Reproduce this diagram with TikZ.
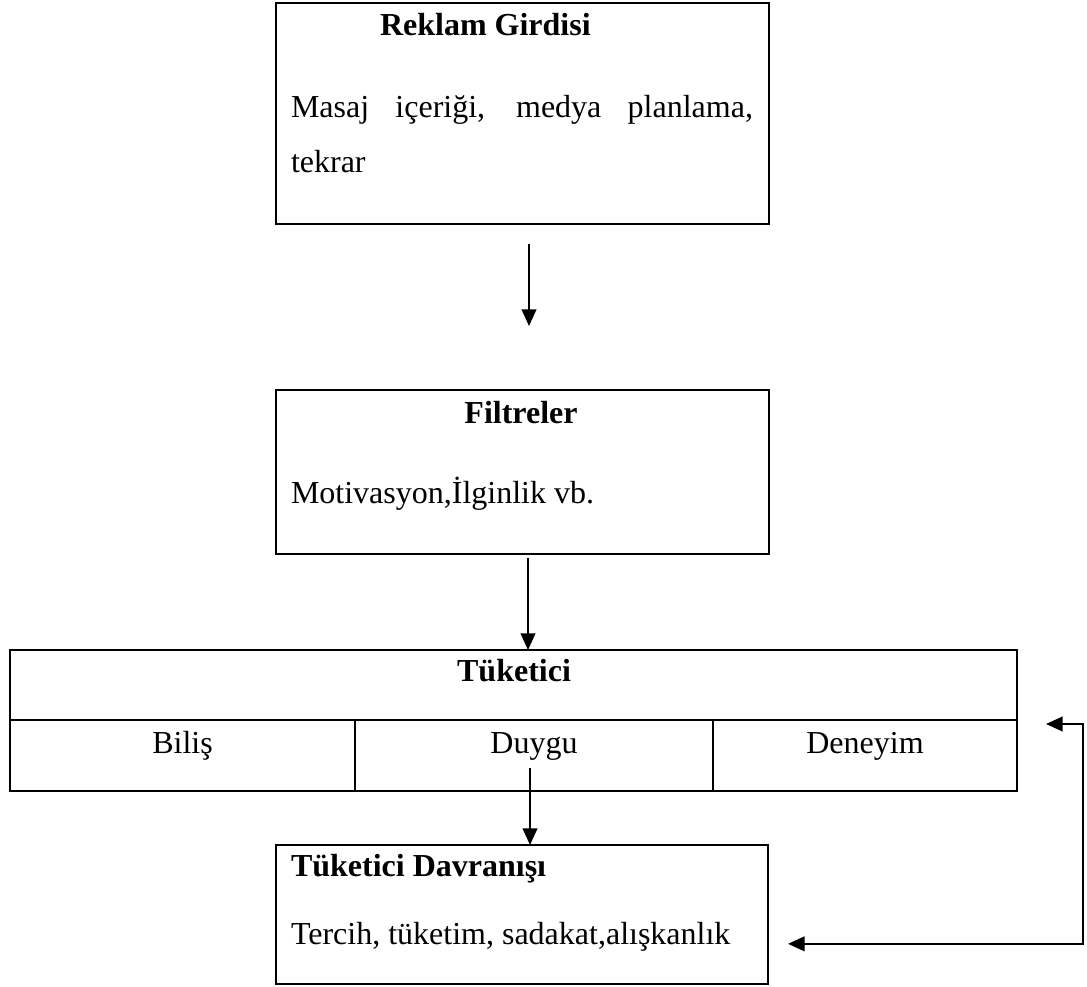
\documentclass[tikz,border=0pt]{standalone}
\usepackage{fontspec}
\setmainfont{Liberation Serif}
\usetikzlibrary{arrows.meta}

\tikzset{
  frame/.style={draw, line width=1.8pt, inner sep=0pt, outer sep=0pt, anchor=north west},
  cell/.style={draw, line width=1.6pt, inner sep=0pt, outer sep=0pt, anchor=north west},
  txt/.style={inner sep=0pt, outer sep=0pt, font=\fontsize{24}{28}\selectfont},
  btxt/.style={txt, font=\fontsize{24}{28}\selectfont\bfseries},
  flow/.style={line width=1.5pt, -{Triangle[length=12.5pt,width=11pt]}},
  loop/.style={line width=1.5pt, {Triangle[length=12.5pt,width=11pt]}-{Triangle[length=12.5pt,width=11pt]}}
}

\begin{document}
\begin{tikzpicture}[x=0.75pt, y=-0.75pt]
\useasboundingbox (0,0) rectangle (1087,987);

% advertising input box
\node[frame, minimum width=369.75pt, minimum height=165.75pt] (reklam) at (276,3) {};
\node[btxt, anchor=base west] (reklamT) at (380,36) {Reklam Girdisi};
\node[txt, anchor=base west] (reklamB1) at (291,118)
  {\makebox[346.5pt][s]{Masaj içeriği, medya planlama,}};
\node[txt, anchor=base west] (reklamB2) at (291,173) {tekrar};

% filters box
\node[frame, minimum width=369.75pt, minimum height=123pt] (filtre) at (276,390) {};
\node[btxt, anchor=base] (filtreT) at (521,423) {Filtreler};
\node[txt, anchor=base west] (filtreB) at (291,503) {Motivasyon,İlginlik vb.};

% consumer table
\node[cell, minimum width=755.25pt, minimum height=52.5pt] (tuk) at (10,650) {};
\node[cell, minimum width=258.75pt, minimum height=53.25pt] (bilis) at (10,720) {};
\node[cell, minimum width=268.5pt, minimum height=53.25pt] (duygu) at (355,720) {};
\node[cell, minimum width=228pt, minimum height=53.25pt] (deneyim) at (713,720) {};
\node[btxt, anchor=base] (tukT) at (514,681) {Tüketici};
\node[txt, anchor=base] (bilisT) at (182.5,753) {Biliş};
\node[txt, anchor=base] (duyguT) at (534,753) {Duygu};
\node[txt, anchor=base] (deneyimT) at (865,753) {Deneyim};

% consumer behaviour box
\node[frame, minimum width=369pt, minimum height=104.25pt] (davr) at (276,845) {};
\node[btxt, anchor=base west] (davrT) at (291,876) {Tüketici Davranışı};
\node[txt, anchor=base west] (davrB) at (291,944) {Tercih, tüketim, sadakat,alışkanlık};

% connector guides
\coordinate (c1) at (529,0);
\coordinate (c2) at (528,0);
\coordinate (c3) at (530,0);
\coordinate (fbx) at (1083,0);
\coordinate (fbA) at ([shift={(21.75pt,-3pt)}]tuk.south east);
\coordinate (fbB) at ([shift={(15pt,-22pt)}]davr.east);

% flow arrows
\draw[flow] ([yshift=-15pt]reklam.south -| c1) -- ([yshift=48pt]filtre.north -| c1);
\draw[flow] ([yshift=-3pt]filtre.south -| c2) -- (tuk.north -| c2);
\draw[flow] ([yshift=17.25pt]duygu.south -| c3) -- (davr.north -| c3);

% feedback loop
\draw[loop] (fbA) -- (fbA -| fbx) -- (fbx |- fbB) -- (fbB);
\end{tikzpicture}
\end{document}
